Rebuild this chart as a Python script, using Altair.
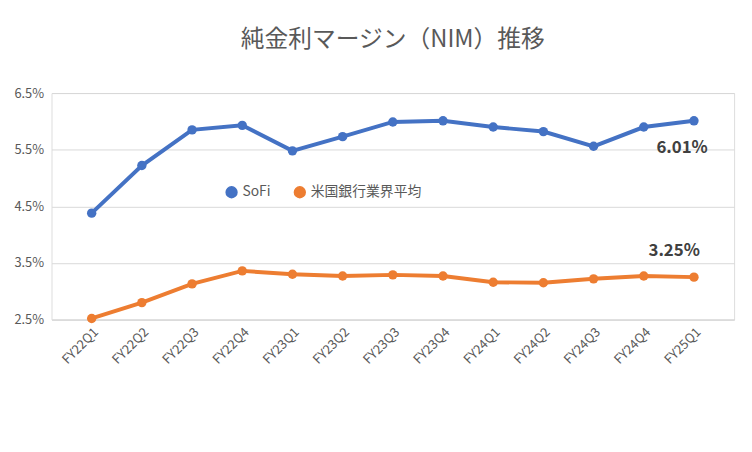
import altair as alt
import pandas as pd

quarters = ["FY22Q1", "FY22Q2", "FY22Q3", "FY22Q4", "FY23Q1", "FY23Q2", "FY23Q3",
            "FY23Q4", "FY24Q1", "FY24Q2", "FY24Q3", "FY24Q4", "FY25Q1"]
sofi = [4.38, 5.22, 5.85, 5.93, 5.48, 5.73, 5.99, 6.01, 5.90, 5.82, 5.56, 5.90, 6.01]
banks = [2.52, 2.80, 3.13, 3.36, 3.30, 3.27, 3.29, 3.27, 3.16, 3.15, 3.22, 3.27, 3.25]
series = ["SoFi", "米国銀行業界平均"]

rows = []
for q, a, b in zip(quarters, sofi, banks):
    rows.append({"q": q, "s": series[0], "v": a / 100})
    rows.append({"q": q, "s": series[1], "v": b / 100})
df = pd.DataFrame(rows)

font = "Noto Sans CJK JP"
color = alt.Color("s:N", scale=alt.Scale(domain=series, range=["#4472C4", "#ED7D31"]),
                  legend=alt.Legend(title=None, orient="none", legendX=175, legendY=93,
                                    direction="horizontal", symbolType="circle",
                                    labelFontSize=14, labelColor="#595959", symbolSize=120,
                                    labelFont=font, columnPadding=20))
x = alt.X("q:N", sort=quarters, title=None,
          scale=alt.Scale(type="point", padding=0.8),
          axis=alt.Axis(labelAngle=-45, labelFontSize=13, labelColor="#595959",
                        domainColor="#d9d9d9", ticks=False, grid=False, labelPadding=6))
y = alt.Y("v:Q", title=None,
          scale=alt.Scale(domain=[0.025, 0.065], nice=False, zero=False),
          axis=alt.Axis(format=".1%", values=[0.025 + 0.005 * i for i in range(9)],
                        labelOverlap=False,
                        labelFontSize=13, labelColor="#595959", domain=False, ticks=False,
                        gridColor="#d9d9d9", labelPadding=8))

base = alt.Chart(df).encode(x=x, y=y, color=color)
lines = base.mark_line(strokeWidth=4) + base.mark_circle(size=90, opacity=1)

last = pd.DataFrame([{"q": quarters[-1], "v": sofi[-1] / 100, "t": f"{sofi[-1]:.2f}%"}])
last2 = pd.DataFrame([{"q": quarters[-1], "v": banks[-1] / 100, "t": f"{banks[-1]:.2f}%"}])
lab1 = alt.Chart(last).mark_text(fontSize=17, fontWeight="bold", color="#404040",
                                 dy=28, dx=-12).encode(x=alt.X("q:N", sort=quarters), y="v:Q", text="t:N")
lab2 = alt.Chart(last2).mark_text(fontSize=17, fontWeight="bold", color="#404040",
                                  dy=-26, dx=-20).encode(x=alt.X("q:N", sort=quarters), y="v:Q", text="t:N")

chart = (lines + lab1 + lab2).properties(
    width=690, height=229,
    title=alt.Title("純金利マージン（NIM）推移", fontSize=24, font=font,
                    color="#595959", fontWeight="normal", offset=36, anchor="middle"),
).configure_view(stroke=None).configure(background="white", font=font,
                                        padding={"left": 5, "top": 18, "right": 10, "bottom": 5})

chart.save("out.html", embed_options={"renderer": "svg", "actions": False})
